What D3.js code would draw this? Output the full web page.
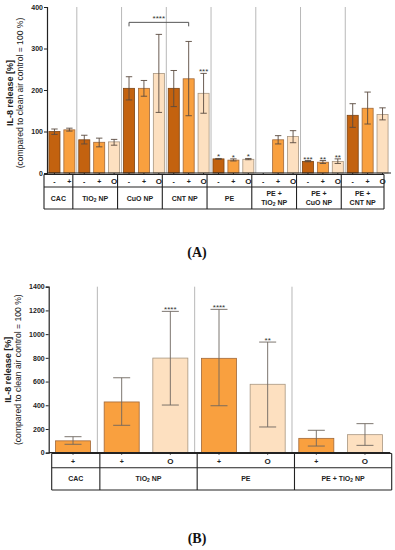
<!DOCTYPE html>
<html>
<head>
<meta charset="utf-8">
<script src="https://cdn.jsdelivr.net/npm/d3@7"></script>
<style>
  body { margin: 0; background: #fff; }
  text { font-family: "Liberation Sans", Arial, sans-serif; }
  text.cap-label { font-family: "Liberation Serif", "Times New Roman", serif; }
</style>
</head>
<body>
<div class="container"></div>
<script>
// panel A data
var groupsA = [["CAC"], ["TiO|2| NP"], ["CuO NP"], ["CNT NP"], ["PE"], ["PE +", "TiO|2| NP"], ["PE +", "CuO NP"], ["PE +", "CNT NP"]];
var treatA = [["-", "+"], ["-", "+", "O"], ["-", "+", "O"], ["-", "+", "O"], ["-", "+", "O"], ["-", "+", "O"], ["-", "+", "O"], ["-", "+", "O"]];
var meanA = [[100, 104], [80, 74, 75], [204, 204, 240], [204, 227, 192], [34, 31, 33], [null, 80, 88], [28, 26, 28], [139, 156, 141]];
var lowA = [[93, 101], [70, 63, 67], [176, 185, 146], [160, 138, 144], [33, 29, 32], [null, 70, 73], [27, 23, 23], [110, 118, 128]];
var highA = [[106, 108], [91, 84, 81], [232, 223, 334], [247, 317, 240], [35, 34, 35], [null, 90, 102], [30, 30, 34], [167, 195, 157]];
var starsA = [["", ""], ["", "", ""], ["", "", ""], ["", "", "***"], ["*", "*", "*"], ["", "", ""], ["***", "**", "**"], ["", "", ""]];
var ticksA = [0, 100, 200, 300, 400];

// panel B data
var groupsB = [["CAC"], ["TiO|2| NP"], ["PE"], ["PE + TiO|2| NP"]];
var treatB = [["+"], ["+", "O"], ["+", "O"], ["+", "O"]];
var meanB = [[100], [428, 798], [796, 577], [121, 152]];
var lowB = [[71], [231, 402], [396, 217], [56, 62]];
var highB = [[135], [632, 1192], [1209, 933], [189, 245]];
var starsB = [[""], ["", "****"], ["****", "**"], ["", ""]];
var ticksB = [0, 200, 400, 600, 800, 1000, 1200, 1400];

var fillFor = {"-": "#c3620f", "+": "#f9a03f", "O": "#fde0c0"};
var strokeFor = {"-": "#7c4414", "+": "#a0683a", "O": "#a89680"};

var svg = d3.select(".container").append("svg")
  .attr("width", 395).attr("height", 550)
  .style("display", "block").style("background", "#fff");

// flatten groups into slots
function slots(treat, mean, low, high, stars) {
  var out = [];
  treat.forEach(function(t, g) {
    t.forEach(function(s, i) {
      out.push({id: g + "_" + i, g: g, t: s, v: mean[g][i], lo: low[g][i], hi: high[g][i], star: stars[g][i]});
    });
  });
  return out;
}

// text with |subscript| parts
function label(sel, str, size) {
  str.split("|").forEach(function(part, i) {
    if (!part) return;
    var sub = i % 2 == 1;
    sel.append("tspan").text(part)
      .attr("font-size", sub ? size * 0.7 : size)
      .attr("baseline-shift", sub ? "-25%" : null);
  });
}

function panel(o) {
  var data = slots(o.treat, o.mean, o.low, o.high, o.stars);
  var x = d3.scaleBand().domain(data.map(function(d) { return d.id; }))
    .range([o.x0, o.x1]).paddingInner(o.pad).paddingOuter(o.pad / 2);
  var y = d3.scaleLinear().domain([0, o.ymax]).range([o.y0, o.y1]);
  var g = svg.append("g");

  // group boundaries
  var bounds = [];
  for (var k = 1; k < o.treat.length; k++) {
    var first = data.filter(function(d) { return d.g == k; })[0];
    bounds.push(x(first.id) - x.step() * o.pad / 2);
  }
  g.selectAll("line.sep").data(bounds).enter().append("line")
    .attr("x1", function(d) { return d; }).attr("x2", function(d) { return d; })
    .attr("y1", o.y1).attr("y2", o.y0)
    .attr("stroke", "#b8b8b8").attr("stroke-width", 1);

  var bars = data.filter(function(d) { return d.v != null; });
  g.selectAll("rect.bar").data(bars).enter().append("rect")
    .attr("x", function(d) { return x(d.id); })
    .attr("width", x.bandwidth())
    .attr("y", function(d) { return y(d.v); })
    .attr("height", function(d) { return y(0) - y(d.v); })
    .attr("fill", function(d) { return fillFor[d.t]; })
    .attr("stroke", function(d) { return strokeFor[d.t]; })
    .attr("stroke-width", 0.8);

  // error bars
  var cx = function(d) { return x(d.id) + x.bandwidth() / 2; };
  g.selectAll("line.err").data(bars).enter().append("line")
    .attr("x1", cx).attr("x2", cx)
    .attr("y1", function(d) { return y(d.lo); })
    .attr("y2", function(d) { return y(d.hi); })
    .attr("stroke", o.errColor).attr("stroke-width", 0.9);
  ["lo", "hi"].forEach(function(key) {
    g.selectAll("line.cap" + key).data(bars).enter().append("line")
      .attr("x1", function(d) { return cx(d) - o.cap; })
      .attr("x2", function(d) { return cx(d) + o.cap; })
      .attr("y1", function(d) { return y(d[key]); })
      .attr("y2", function(d) { return y(d[key]); })
      .attr("stroke", o.errColor).attr("stroke-width", 0.9);
  });

  g.selectAll("text.star").data(bars.filter(function(d) { return d.star; })).enter().append("text")
    .attr("x", cx).attr("y", function(d) { return y(d.hi) + 1; })
    .attr("text-anchor", "middle").attr("font-size", 8).attr("fill", "#333")
    .text(function(d) { return d.star; });

  // axes
  var ya = g.append("g").attr("transform", "translate(" + o.x0 + ",0)")
    .call(d3.axisLeft(y).tickValues(o.ticks).tickSize(3).tickPadding(1).tickFormat(d3.format("d")));
  ya.select(".domain").attr("stroke", "#222").attr("stroke-width", 1.2);
  ya.selectAll(".tick line").attr("stroke", "#222");
  ya.selectAll("text").attr("font-size", 7).attr("font-weight", "bold").attr("fill", "#222");
  g.append("line").attr("x1", o.x0).attr("x2", o.x1 + 1).attr("y1", o.y0).attr("y2", o.y0)
    .attr("stroke", "#222").attr("stroke-width", 1.2);
  g.selectAll("line.xt").data(data).enter().append("line")
    .attr("x1", cx).attr("x2", cx).attr("y1", o.y0).attr("y2", o.y0 + 2)
    .attr("stroke", "#222");

  // axis title
  var ty = (o.y0 + o.y1) / 2 + o.titleShift;
  g.append("text").attr("transform", "translate(" + o.tx + "," + ty + ") rotate(-90)")
    .attr("text-anchor", "middle").attr("font-size", 9).attr("font-weight", "bold").attr("fill", "#222")
    .text("IL-8 release [%]");
  g.append("text").attr("transform", "translate(" + (o.tx + 9.5) + "," + ty + ") rotate(-90)")
    .attr("text-anchor", "middle").attr("font-size", 8.6).attr("fill", "#222")
    .text("(compared to clean air control = 100 %)");

  // table below the axis
  var tl = o.tableLeft, tr = o.tableRight, t0 = o.t0, t1 = o.t1, t2 = o.t2;
  var cols = [tl].concat(bounds.map(function(b) { return b + o.tableShift; })).concat([tr]);
  var tb = g.append("g").attr("stroke", "#222").attr("stroke-width", 1.1);
  [t0, t1, t2].forEach(function(yy) {
    tb.append("line").attr("x1", tl).attr("x2", tr).attr("y1", yy).attr("y2", yy);
  });
  tb.selectAll("line.col").data(cols).enter().append("line")
    .attr("x1", function(d) { return d; }).attr("x2", function(d) { return d; })
    .attr("y1", t0).attr("y2", t2);

  g.selectAll("text.sign").data(data).enter().append("text")
    .attr("x", cx).attr("y", (t0 + t1) / 2 + 3)
    .attr("text-anchor", "middle").attr("font-weight", "bold").attr("fill", "#222")
    .attr("font-size", function(d) { return d.t == "O" ? 8 : 7; })
    .text(function(d) { return d.t; });

  o.groups.forEach(function(lines, k) {
    var mid = (cols[k] + cols[k + 1]) / 2;
    var cy = (t1 + t2) / 2;
    lines.forEach(function(line, i) {
      var t = g.append("text").attr("x", mid)
        .attr("y", cy + 2.5 + (i - (lines.length - 1) / 2) * 8.5)
        .attr("text-anchor", "middle").attr("font-weight", "bold").attr("fill", "#222");
      label(t, line, 7);
    });
  });
  return {x: x, y: y, g: g, data: data};
}

var A = panel({
  treat: treatA, mean: meanA, low: lowA, high: highA, stars: starsA, groups: groupsA, ticks: ticksA,
  x0: 47, x1: 390, y0: 173, y1: 7, ymax: 400, pad: 0.26, cap: 3.2, errColor: "#5a4b40",
  tx: 13, titleShift: 3,
  tableLeft: 44, tableRight: 384, tableShift: -4, t0: 174.5, t1: 187, t2: 209
});

// significance bracket CuO "-" vs CNT "+"
var bx1 = A.x("2_0") + A.x.bandwidth() / 2, bx2 = A.x("3_1") + A.x.bandwidth() / 2;
var by = A.y(363);
A.g.append("path")
  .attr("d", "M" + bx1 + "," + (by + 4) + "V" + by + "H" + bx2 + "V" + (by + 4))
  .attr("fill", "none").attr("stroke", "#555").attr("stroke-width", 1);
A.g.append("text").attr("x", (bx1 + bx2) / 2).attr("y", by - 1)
  .attr("text-anchor", "middle").attr("font-size", 8).attr("fill", "#333").text("****");

panel({
  treat: treatB, mean: meanB, low: lowB, high: highB, stars: starsB, groups: groupsB, ticks: ticksB,
  x0: 48.7, x1: 389.3, y0: 452.7, y1: 286.7, ymax: 1400, pad: 0.28, cap: 8.5, errColor: "#6e6660",
  tx: 11, titleShift: 0,
  tableLeft: 51.7, tableRight: 391.7, tableShift: 2.5, t0: 453.5, t1: 467.7, t2: 490
});

svg.append("text").attr("class", "cap-label").attr("x", 197).attr("y", 257).attr("text-anchor", "middle")
  .attr("font-weight", "bold").attr("font-size", 14).attr("fill", "#111").text("(A)");
svg.append("text").attr("class", "cap-label").attr("x", 197).attr("y", 543).attr("text-anchor", "middle")
  .attr("font-weight", "bold").attr("font-size", 14).attr("fill", "#111").text("(B)");
</script>
</body>
</html>
